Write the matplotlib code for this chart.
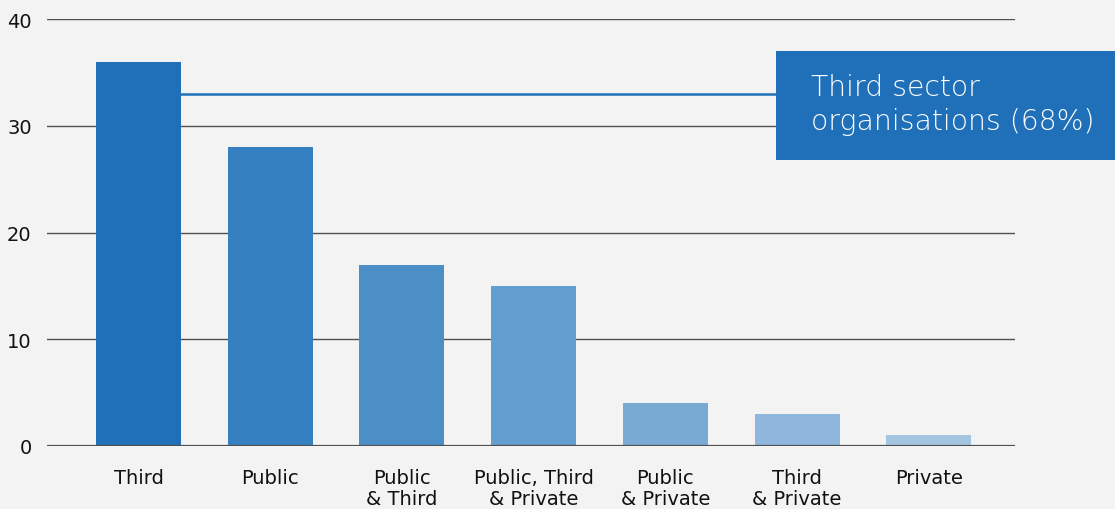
import numpy as np
import matplotlib.pyplot as plt
from matplotlib.patches import Rectangle

# Data
categories = ['Third', 'Public', 'Public\n& Third', 'Public, Third\n& Private',
              'Public\n& Private', 'Third\n& Private', 'Private']
values = [36, 28, 17, 15, 4, 3, 1]
bar_colors = ['#1f70b8', '#3580c0', '#4c8fc7', '#649ecf', '#79aad4', '#8fb6dc', '#a4c5e2']
yticks = [0, 10, 20, 30, 40]
callout_value = 33
callout_text = 'Third sector\norganisations (68%)'

bg = '#f3f3f3'
plt.rcParams['font.family'] = ['DejaVu Sans']

fig = plt.figure(figsize=(11.15, 5.10), dpi=100, facecolor=bg)
ax = fig.add_axes([47/1115, 1-447/510, (1015-47)/1115, (447-20)/510])
ax.set_facecolor(bg)

x = np.arange(len(categories))
ax.bar(x, values, width=0.645, color=bar_colors, zorder=3)

ax.set_ylim(0, 40)
ax.set_xlim(-0.695, 6.655)
ax.set_yticks(yticks)
ax.set_yticklabels([str(t) for t in yticks], fontsize=14, color='#111111')
ax.set_xticks(x)
ax.set_xticklabels(categories, fontsize=14, color='#111111', linespacing=1.1)
ax.tick_params(axis='both', length=0)
ax.tick_params(axis='x', pad=16)
ax.tick_params(axis='y', pad=11)
for s in ax.spines.values():
    s.set_visible(False)
for t in yticks:
    ax.axhline(t, color='#505050', lw=1.0 if t else 1.6, zorder=1 if t else 4)

# callout line from first bar to box
ax.plot([0 + 0.645/2, 4.86], [callout_value, callout_value], color='#1f70b8', lw=1.8, zorder=2)

# callout box in figure coords
fig.patches.append(Rectangle((776/1115, 1-161/510), (1115-776)/1115, (161-52)/510,
                             transform=fig.transFigure, facecolor='#1f70b8',
                             edgecolor='none', zorder=5))
fig.text(811/1115, 1-105/510, callout_text, color='white', fontsize=20.3,
         fontweight='light', va='center', ha='left', linespacing=1.3, zorder=6)

fig.savefig('out.png', dpi=100, facecolor=bg)
